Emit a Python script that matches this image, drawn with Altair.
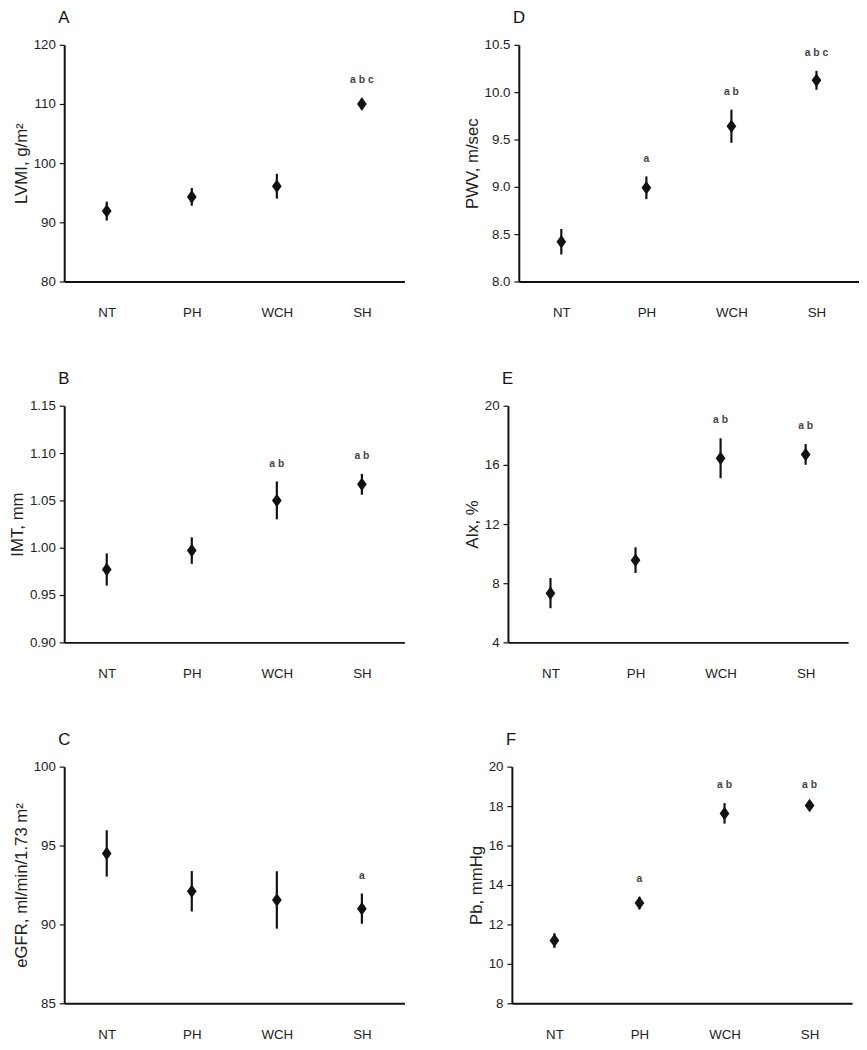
import altair as alt
import pandas as pd

groups = ["NT", "PH", "WCH", "SH"]

# Panel A: LVMI
lvmi_mean = [91.9, 94.3, 96.1, 110.0]
lvmi_err = [1.6, 1.5, 2.1, 1.0]
lvmi_sig = ["", "", "", "a b c"]

# Panel B: IMT
imt_mean = [0.977, 0.997, 1.050, 1.067]
imt_err = [0.017, 0.014, 0.020, 0.011]
imt_sig = ["", "", "a b", "a b"]

# Panel C: eGFR
egfr_mean = [94.5, 92.1, 91.55, 91.0]
egfr_err = [1.47, 1.28, 1.82, 0.96]
egfr_sig = ["", "", "", "a"]

# Panel D: PWV
pwv_mean = [8.42, 8.99, 9.64, 10.125]
pwv_err = [0.135, 0.12, 0.175, 0.1]
pwv_sig = ["", "a", "a b", "a b c"]

# Panel E: AIx
aix_mean = [7.33, 9.56, 16.45, 16.71]
aix_err = [1.02, 0.87, 1.35, 0.70]
aix_sig = ["", "", "a b", "a b"]

# Panel F: Pb
pb_mean = [11.18, 13.08, 17.63, 18.03]
pb_err = [0.37, 0.32, 0.52, 0.15]
pb_sig = ["", "a", "a b", "a b"]

FONT = "Liberation Sans"
DIAMOND = "M0,-1.25L0.9,0L0,1.25L-0.9,0Z"


def panel(letter, ytitle, mean, err, sig, domain, ticks, fmt):
    df = pd.DataFrame({
        "group": groups,
        "mean": mean,
        "lo": [m - e for m, e in zip(mean, err)],
        "hi": [m + e for m, e in zip(mean, err)],
        "sig": sig,
    })
    x = alt.X("group:N", sort=groups, title=None,
              scale=alt.Scale(type="point", padding=0.5),
              axis=alt.Axis(ticks=False, labelPadding=25, labelAngle=0,
                            domainWidth=2, domainColor="#111"))
    yscale = alt.Scale(domain=domain, nice=False, zero=False)
    yaxis = alt.Axis(values=ticks, format=fmt, grid=False, title=ytitle,
                     domainWidth=2, domainColor="#111", labelOverlap=False,
                     tickColor="#111", tickWidth=1.2, tickSize=5,
                     labelPadding=4, titlePadding=3)
    rule = alt.Chart(df).mark_rule(color="#111", strokeWidth=2.2).encode(
        x=x,
        y=alt.Y("lo:Q", scale=yscale, axis=yaxis, title=ytitle),
        y2="hi:Q",
    )
    pts = alt.Chart(df).mark_point(shape=DIAMOND, filled=True, color="#111",
                                   size=120, opacity=1).encode(
        x=x, y=alt.Y("mean:Q", scale=yscale, axis=yaxis, title=ytitle))
    txt = alt.Chart(df).mark_text(fontSize=10.5, color="#444", dy=-18,
                                  fontWeight="bold", font=FONT).encode(
        x=x, y=alt.Y("hi:Q", scale=yscale, axis=yaxis, title=ytitle),
        text="sig:N")
    return alt.layer(rule, pts, txt).properties(
        width=345, height=240,
        title=alt.TitleParams(letter, anchor="start", frame="group",
                              fontSize=17, fontWeight="normal", font=FONT,
                              color="#111", offset=11, dx=-6),
    )


A = panel("A", "LVMI, g/m²", lvmi_mean, lvmi_err, lvmi_sig, [80, 120], [80, 90, 100, 110, 120], "d")
B = panel("B", "IMT, mm", imt_mean, imt_err, imt_sig, [0.90, 1.15], [0.90, 0.95, 1.00, 1.05, 1.10, 1.15], ".2f")
C = panel("C", "eGFR, ml/min/1.73 m²", egfr_mean, egfr_err, egfr_sig, [85, 100], [85, 90, 95, 100], "d")
D = panel("D", "PWV, m/sec", pwv_mean, pwv_err, pwv_sig, [8.0, 10.5], [8.0, 8.5, 9.0, 9.5, 10.0, 10.5], ".1f")
E = panel("E", "AIx, %", aix_mean, aix_err, aix_sig, [4, 20], [4, 8, 12, 16, 20], "d")
F = panel("F", "Pb, mmHg", pb_mean, pb_err, pb_sig, [8, 20], [8, 10, 12, 14, 16, 18, 20], "d")

row1 = alt.hconcat(A, D, spacing=59)
row2 = alt.hconcat(B, E, spacing=59)
row3 = alt.hconcat(C, F, spacing=63)

chart = alt.vconcat(row1, row2, row3, spacing=51).properties(
    padding={"left": 0, "top": -6, "right": 0, "bottom": 0},
    background="white",
).configure_view(stroke=None).configure_axis(
    labelFont=FONT, titleFont=FONT, labelFontSize=13.5, titleFontSize=17,
    titleFontWeight="normal", labelColor="#222", titleColor="#222",
)

chart.save("out.html", embed_options={"renderer": "svg", "actions": False})
